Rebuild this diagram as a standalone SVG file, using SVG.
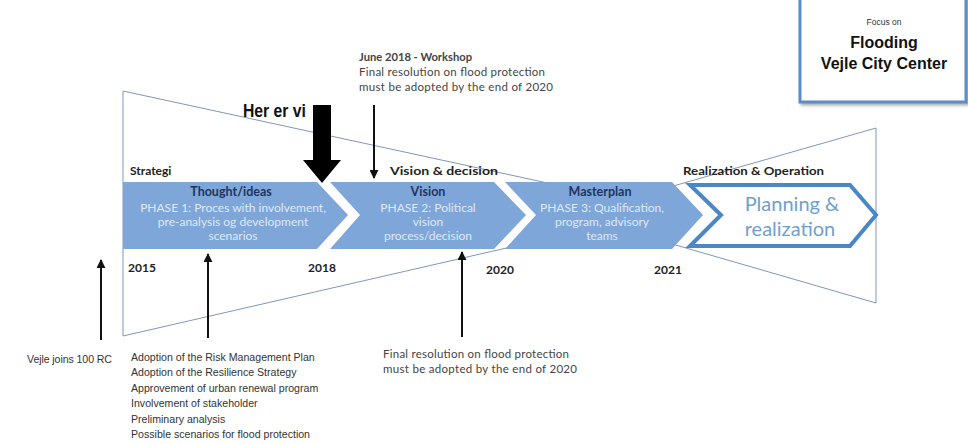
<svg xmlns="http://www.w3.org/2000/svg" width="968" height="444" viewBox="0 0 968 444">
<style>
.guide{fill:none;stroke:#7f97bb;stroke-width:1}
.chev{fill:#7ea6d9}
.hd{font-family:Lato,"Liberation Sans",sans-serif;font-weight:bold;font-size:12.5px;fill:#1e3560;text-anchor:middle}
.ph{font-family:Lato,"Liberation Sans",sans-serif;font-size:12px;fill:#dfe9f6;text-anchor:middle}
.lab{font-family:Lato,"Liberation Sans",sans-serif;font-weight:bold;font-size:12px;fill:#222}
.yr{font-family:Lato,"Liberation Sans",sans-serif;font-weight:bold;font-size:12px;fill:#222}
.note{font-family:Lato,"Liberation Sans",sans-serif;font-size:11.5px;fill:#444}
.list{font-family:"Liberation Sans",Arial,sans-serif;font-size:10.6px;fill:#333}
.arr{stroke:#111;stroke-width:2;fill:none}
</style>
<defs>
<marker id="ah" viewBox="0 0 10 10" refX="9" refY="5" markerWidth="4.5" markerHeight="4.5" orient="auto-start-reverse">
<path d="M0,0 L10,5 L0,10 z" fill="#111"/>
</marker>
<filter id="sh" x="-10%" y="-10%" width="130%" height="130%">
<feDropShadow dx="2" dy="2" stdDeviation="1.5" flood-color="#555" flood-opacity="0.5"/>
</filter>
</defs>

<g id="funnels">
<path class="guide" d="M123,91 L123,336 L672,210 Z"/>
<path class="guide" d="M876,128 L876,303 L572,215 Z"/>
</g>

<g id="phase1">
<path class="chev" d="M123,182 L317,182 L348,215 L317,249 L123,249 Z"/>
<text class="hd" x="231" y="196">Thought/ideas</text>
<text class="ph" x="233" y="212">PHASE 1: Proces with involvement,</text>
<text class="ph" x="233" y="226">pre-analysis og development</text>
<text class="ph" x="233" y="240">scenarios</text>
</g>

<g id="phase2">
<path class="chev" d="M330,182 L494,182 L526,215 L494,249 L330,249 L360,215 Z"/>
<text class="hd" x="428" y="196">Vision</text>
<text class="ph" x="428" y="212">PHASE 2: Political</text>
<text class="ph" x="428" y="226">vision</text>
<text class="ph" x="428" y="240">process/decision</text>
</g>

<g id="phase3">
<path class="chev" d="M505,182 L672,182 L703,215 L672,249 L505,249 L536,215 Z"/>
<text class="hd" x="600" y="196">Masterplan</text>
<text class="ph" x="602" y="212">PHASE 3: Qualification,</text>
<text class="ph" x="602" y="226">program, advisory</text>
<text class="ph" x="602" y="240">teams</text>
</g>

<g id="phase4">
<path d="M690,185 L850,185 L876,215 L850,246 L690,246 L721,215 Z" fill="#fff" stroke="#4a86c8" stroke-width="4" stroke-linejoin="miter"/>
<text x="792" y="211" font-family="Lato,'Open Sans',sans-serif" font-size="20" fill="#6f9fd2" text-anchor="middle">Planning &amp;</text>
<text x="790" y="236" font-family="Lato,'Open Sans',sans-serif" font-size="20" fill="#6f9fd2" text-anchor="middle">realization</text>
</g>

<g id="labels">
<text class="lab" x="130" y="175">Strategi</text>
<text class="lab" x="390" y="175" textLength="108" lengthAdjust="spacingAndGlyphs">Vision &amp; decision</text>
<text class="lab" x="683" y="175" textLength="141" lengthAdjust="spacingAndGlyphs">Realization &amp; Operation</text>
<text class="yr" x="128" y="272">2015</text>
<text class="yr" x="308" y="272">2018</text>
<text class="yr" x="486" y="274">2020</text>
<text class="yr" x="654" y="274">2021</text>
</g>

<g id="focus">
<rect x="800" y="-6" width="166" height="108" fill="#fff" stroke="#5b8dc8" stroke-width="3" filter="url(#sh)"/>
<text x="884" y="25" font-family="'Liberation Sans',Arial,sans-serif" font-size="8.5" fill="#333" text-anchor="middle">Focus on</text>
<text x="884" y="48" font-family="'Liberation Sans',Arial,sans-serif" font-size="16" font-weight="bold" fill="#111" text-anchor="middle">Flooding</text>
<text x="884" y="69" font-family="'Liberation Sans',Arial,sans-serif" font-size="16" font-weight="bold" fill="#111" text-anchor="middle">Vejle City Center</text>
</g>

<g id="here">
<text x="243" y="117" font-family="'Liberation Sans',Arial,sans-serif" font-size="18" font-weight="bold" fill="#111" textLength="63" lengthAdjust="spacingAndGlyphs">Her er vi</text>
<path d="M313,105 L331,105 L331,160 L341,160 L322,183 L303,160 L313,160 Z" fill="#000"/>
</g>

<g id="workshop">
<text class="note" x="359" y="61" font-weight="bold" fill="#222" textLength="113" lengthAdjust="spacingAndGlyphs">June 2018 - Workshop</text>
<text class="note" x="359" y="76" textLength="186" lengthAdjust="spacing">Final resolution on flood protection</text>
<text class="note" x="359" y="91" textLength="194" lengthAdjust="spacing">must be adopted by the end of 2020</text>
</g>

<g id="notes">
<text class="list" x="27" y="363" textLength="85" lengthAdjust="spacing">Vejle joins 100 RC</text>
<text class="list" x="131" y="361">Adoption of the Risk Management Plan</text>
<text class="list" x="131" y="376">Adoption of the Resilience Strategy</text>
<text class="list" x="131" y="392">Approvement of urban renewal program</text>
<text class="list" x="131" y="407">Involvement of stakeholder</text>
<text class="list" x="131" y="423">Preliminary analysis</text>
<text class="list" x="131" y="438">Possible scenarios for flood protection</text>
<text class="note" x="383" y="358" textLength="186" lengthAdjust="spacing">Final resolution on flood protection</text>
<text class="note" x="383" y="373" textLength="194" lengthAdjust="spacing">must be adopted by the end of 2020</text>
</g>

<g id="connectors">
<line class="arr" x1="374" y1="105" x2="374" y2="178" marker-end="url(#ah)"/>
<line class="arr" x1="101" y1="340" x2="101" y2="260" marker-end="url(#ah)"/>
<line class="arr" x1="208" y1="338" x2="208" y2="254" marker-end="url(#ah)"/>
<line class="arr" x1="462" y1="337" x2="462" y2="252" marker-end="url(#ah)"/>
</g>
</svg>
